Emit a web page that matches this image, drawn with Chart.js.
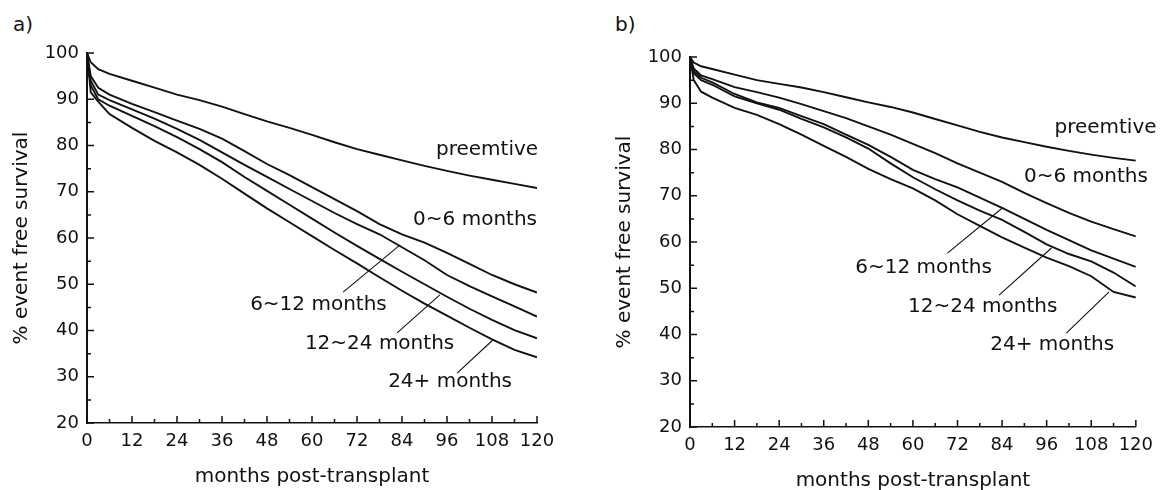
<!DOCTYPE html>
<html>
<head>
<meta charset="utf-8">
<script src="https://cdn.jsdelivr.net/npm/chart.js@4.4.1/dist/chart.umd.min.js"></script>
<style>
  body { margin: 0; background: #fff; width: 1161px; height: 490px; overflow: hidden; position: relative;
         font-family: "DejaVu Sans", sans-serif; color: #111; }
  .panel { position: absolute; }
  .tag { position: absolute; font-size: 20px; line-height: 20px; }
</style>
</head>
<body>
<div class="tag" style="left:13px;top:14px">a)</div>
<div class="tag" style="left:615px;top:14px">b)</div>
<div class="panel" style="left:0;top:0"><canvas id="chartA" width="580" height="490"></canvas></div>
<div class="panel" style="left:603px;top:4px"><canvas id="chartB" width="558" height="490"></canvas></div>
<script>
// months post-transplant at which the curves were read
const months = [0, 1, 3, 6, 12, 18, 24, 30, 36, 42, 48, 54, 60, 66, 72, 78, 84, 90, 96, 102, 108, 114, 120];

// panel a) % event free survival
const aPreemptive = [100, 98, 96.5, 95.5, 94, 92.5, 91, 89.8, 88.4, 86.8, 85.2, 83.8, 82.3, 80.7, 79.2, 78, 76.8, 75.6, 74.5, 73.5, 72.6, 71.7, 70.8];
const a0to6 = [100, 95, 92.5, 91, 89, 87.2, 85.4, 83.6, 81.5, 78.8, 76, 73.6, 71, 68.4, 65.8, 63, 60.8, 59, 56.8, 54.4, 52, 50, 48.2];
const a6to12 = [100, 94, 91, 89.8, 87.8, 85.8, 83.6, 81.2, 78.5, 75.8, 73.2, 70.6, 68, 65.4, 63, 60.8, 58, 55.2, 52, 49.6, 47.4, 45.2, 43];
const a12to24 = [100, 93, 90, 88.6, 86.4, 84.2, 81.8, 79.2, 76.4, 73.2, 70.2, 67.2, 64.2, 61.2, 58.3, 55.5, 52.7, 50, 47.3, 44.7, 42.3, 40.1, 38.3];
const a24plus = [100, 91.5, 89.5, 86.8, 83.8, 81, 78.5, 75.8, 72.8, 69.6, 66.4, 63.4, 60.4, 57.4, 54.5, 51.5, 48.6, 45.8, 43.2, 40.6, 38.1, 35.8, 34.2];

// panel b)
const bPreemptive = [100, 98.8, 98, 97.4, 96.2, 95, 94.2, 93.4, 92.4, 91.3, 90.2, 89.2, 88, 86.6, 85.2, 83.8, 82.6, 81.6, 80.6, 79.7, 78.9, 78.2, 77.6];
const b0to6 = [100, 97.5, 96, 95.2, 93.5, 92.4, 91.2, 89.8, 88.3, 86.8, 85, 83.2, 81.2, 79.2, 77, 75, 73, 70.6, 68.4, 66.3, 64.4, 62.8, 61.2];
const b6to12 = [100, 97, 95.5, 94.5, 92, 90.2, 89, 87.2, 85.5, 83.2, 81, 78.4, 75.6, 73.6, 71.8, 69.6, 67.4, 65, 62.6, 60.4, 58.2, 56.4, 54.6];
const b12to24 = [100, 96.5, 95, 94, 91.5, 90, 88.6, 86.6, 84.8, 82.6, 80.2, 77, 74, 71.4, 69, 66.8, 64.8, 62.2, 59.5, 57.4, 55.8, 53.4, 50.4];
const b24plus = [100, 95, 92.5, 91.2, 89, 87.5, 85.5, 83.2, 80.8, 78.4, 75.8, 73.6, 71.6, 69, 66, 63.5, 61, 58.8, 56.6, 54.8, 52.6, 49.2, 48];

// axes
const xMin = 0, xMax = 120, xStep = 12, xMinorStep = 6;
const yMin = 20, yMax = 100, yStep = 10, yMinorStep = 5;

const FONT = '"DejaVu Sans", sans-serif';
const INK = '#111';

// curve labels and leader lines, in data units
const notesA = [
    { text: 'preemtive', x: 120.3, y: 79.0, align: 'right' },
    { text: '0~6 months', x: 120.0, y: 63.9, align: 'right' },
    { text: '6~12 months', x: 43.5, y: 45.5 },
    { text: '12~24 months', x: 58.1, y: 37.1 },
    { text: '24+ months', x: 80.3, y: 28.9 }
];
const leadersA = [
    [[68.3, 48.3], [83.5, 58.5]],
    [[82.7, 39.5], [94.1, 47.7]],
    [[98.7, 30.8], [108.3, 38.0]]
];
const notesB = [
    { text: 'preemtive', x: 98.1, y: 84.6 },
    { text: '0~6 months', x: 89.9, y: 74.1 },
    { text: '6~12 months', x: 44.5, y: 54.4 },
    { text: '12~24 months', x: 58.7, y: 45.9 },
    { text: '24+ months', x: 80.8, y: 37.7 }
];
const leadersB = [
    [[69.3, 57.6], [84.0, 67.3]],
    [[83.2, 48.5], [97.3, 58.7]],
    [[101.3, 40.3], [112.8, 49.2]]
];

function toPoints(values) {
    return values.map((v, i) => ({ x: months[i], y: v }));
}

// tick marks point into the plot like the printed figure
const innerTicks = {
    id: 'innerTicks',
    afterDraw(chart) {
        const { ctx, chartArea, scales: { x, y } } = chart;
        ctx.save();
        ctx.strokeStyle = INK;
        ctx.lineWidth = 1.5;
        ctx.beginPath();
        for (let m = xMin; m <= xMax; m += xMinorStep) {
            const px = x.getPixelForValue(m);
            const len = m % xStep === 0 ? 7 : 4;
            ctx.moveTo(px, chartArea.bottom);
            ctx.lineTo(px, chartArea.bottom - len);
        }
        for (let v = yMin; v <= yMax; v += yMinorStep) {
            const py = y.getPixelForValue(v);
            const len = v % yStep === 0 ? 7 : 4;
            ctx.moveTo(chartArea.left, py);
            ctx.lineTo(chartArea.left + len, py);
        }
        ctx.stroke();
        ctx.restore();
    }
};

function notesPlugin(notes) {
    return {
        id: 'notes',
        afterDatasetsDraw(chart) {
            const { ctx, scales: { x, y } } = chart;
            ctx.save();
            ctx.fillStyle = INK;
            ctx.font = '20px ' + FONT;
            ctx.textBaseline = 'middle';
            notes.forEach(n => {
                ctx.textAlign = n.align || 'left';
                ctx.fillText(n.text, x.getPixelForValue(n.x), y.getPixelForValue(n.y));
            });
            ctx.restore();
        }
    };
}

function makeChart(canvasId, series, notes, leaders, padRight) {
    const datasets = series.map(values => ({
        data: toPoints(values),
        borderColor: INK,
        borderWidth: 1.9,
        pointRadius: 0,
        tension: 0,
        fill: false
    }));
    leaders.forEach(seg => {
        datasets.push({
            data: seg.map(p => ({ x: p[0], y: p[1] })),
            borderColor: INK,
            borderWidth: 1.1,
            pointRadius: 0,
            fill: false
        });
    });

    const tickFont = { family: FONT, size: 18 };
    const titleFont = { family: FONT, size: 20 };

    return new Chart(document.getElementById(canvasId), {
        type: 'line',
        data: { datasets: datasets },
        options: {
            responsive: false,
            animation: false,
            layout: { padding: { top: 53, right: padRight, left: 0, bottom: 0 } },
            plugins: { legend: { display: false }, tooltip: { enabled: false } },
            scales: {
                x: {
                    type: 'linear',
                    min: xMin,
                    max: xMax,
                    afterFit: s => { s.height = 67; },
                    ticks: { stepSize: xStep, color: INK, font: tickFont, padding: 8, maxRotation: 0, autoSkip: false },
                    grid: { display: false, drawTicks: false },
                    border: { display: true, color: INK, width: 1.5 },
                    title: { display: true, text: 'months post-transplant', color: INK, font: titleFont, padding: { top: 0, bottom: 1 } }
                },
                y: {
                    type: 'linear',
                    min: yMin,
                    max: yMax,
                    afterFit: s => { s.width = 87; },
                    ticks: { stepSize: yStep, color: INK, font: tickFont, padding: 8 },
                    grid: { display: false, drawTicks: false },
                    border: { display: true, color: INK, width: 2 },
                    title: { display: true, text: '% event free survival', color: INK, font: titleFont, padding: { top: 10, bottom: 0 } }
                }
            }
        },
        plugins: [innerTicks, notesPlugin(notes)]
    });
}

makeChart('chartA', [aPreemptive, a0to6, a6to12, a12to24, a24plus], notesA, leadersA, 43);
makeChart('chartB', [bPreemptive, b0to6, b6to12, b12to24, b24plus], notesB, leadersB, 21);
</script>
</body>
</html>
